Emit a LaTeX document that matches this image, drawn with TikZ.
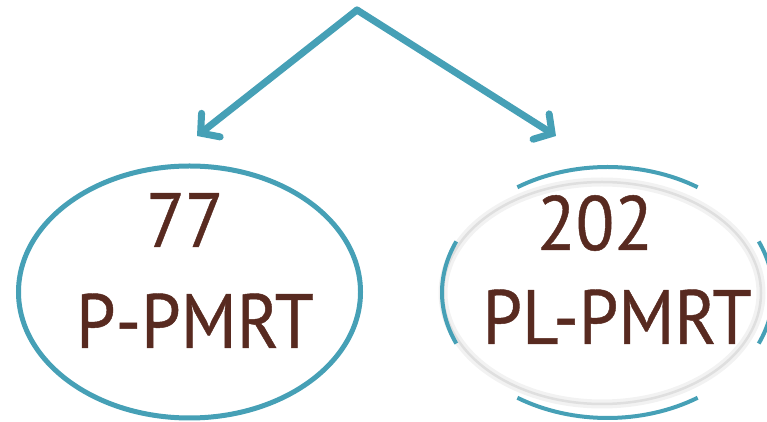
\documentclass[tikz,border=0pt]{standalone}
\usepackage{fontspec}
\newfontfamily\labelfont{PT Sans}[FakeBold=0.6]
\usetikzlibrary{arrows.meta}

\definecolor{tealline}{RGB}{70,160,182}
\definecolor{browntext}{RGB}{88,42,32}

\tikzset{
  branch/.style={draw=tealline, line width=7pt, line cap=round,
    -{Straight Barb[length=13pt 0, width=30pt 0, line cap=round]}},
  count/.style={anchor=base, text=browntext, xscale=0.92,
    font=\labelfont\fontsize{77}{77}\selectfont},
  ring/.style={draw=tealline, line width=5pt}
}

\begin{document}
\begin{tikzpicture}[x=1pt,y=1pt]
\useasboundingbox (0,0) rectangle (767,422);

% arrows
\coordinate (top) at (357,412);
\coordinate (lefttip) at (197,286);
\coordinate (righttip) at (556,286);
\draw[branch] (top) -- (lefttip);
\draw[branch] (top) -- (righttip);

% left ellipse
\draw[ring] (189.5,130) ellipse [x radius=171, y radius=126];

% right ellipse, grey with teal pieces
\draw[gray!10, line width=9pt] (602,129) ellipse [x radius=159, y radius=111];
\draw[gray!25, line width=2.5pt] (602,129) ellipse [x radius=159, y radius=111];
\draw[ring, line width=4pt] (607.5,129.5) ++(57:165.5 and 125.5) arc [start angle=57, end angle=123, x radius=165.5, y radius=125.5];
\draw[ring, line width=4pt] (607.5,129.5) ++(156:165.5 and 125.5) arc [start angle=156, end angle=204, x radius=165.5, y radius=125.5];
\draw[ring, line width=4pt] (607.5,129.5) ++(237:165.5 and 125.5) arc [start angle=237, end angle=303, x radius=165.5, y radius=125.5];
\draw[ring, line width=4pt] (607.5,129.5) ++(-24:165.5 and 125.5) arc [start angle=-24, end angle=24, x radius=165.5, y radius=125.5];

% labels
\node[count] (n77) at (185,175) {77};
\node[count] (pp) at (195,74) {P-PMRT};
\node[count] (n202) at (595,172) {202};
\node[count] (plp) at (617,78) {PL-PMRT};

\end{tikzpicture}
\end{document}
